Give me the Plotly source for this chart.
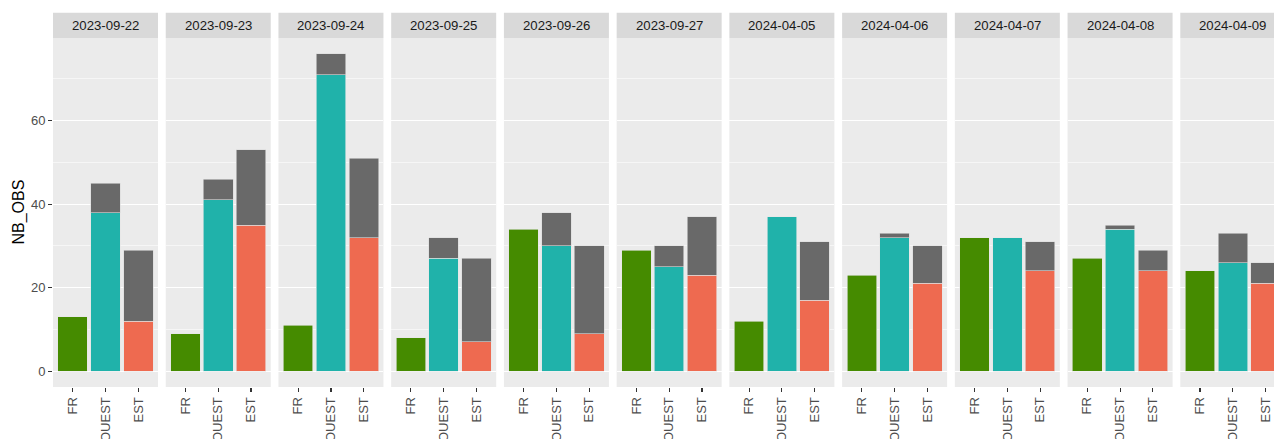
import plotly.graph_objects as go

# ---------------- data ----------------
dates = ["2023-09-22", "2023-09-23", "2023-09-24", "2023-09-25", "2023-09-26",
         "2023-09-27", "2024-04-05", "2024-04-06", "2024-04-07", "2024-04-08",
         "2024-04-09"]
regions = ["FR", "OUEST", "EST"]

fr_obs = [13, 9, 11, 8, 34, 29, 12, 23, 32, 27, 24]
ouest_obs = [38, 41, 71, 27, 30, 25, 37, 32, 32, 34, 26]
est_obs = [12, 35, 32, 7, 9, 23, 17, 21, 24, 24, 21]

ouest_total = [45, 46, 76, 32, 38, 30, 37, 33, 32, 35, 33]
est_total = [29, 53, 51, 27, 30, 37, 31, 30, 31, 29, 26]

y_ticks = [0, 20, 40, 60]
y_minor = [10, 30, 50, 70]

region_colors = ["#458B00", "#20B2AA", "#EE6A50"]
other_color = "#696969"

# ---------------- layout geometry (pixels) ----------------
W, H = 1274, 439
L, R, T, B = 53, 0, 38, 52
PW = W - L - R
PH = H - T - B
panel_start0 = 53.0
panel_step = 112.73
panel_w = 105.0
strip_top = 12.7

x_lo, x_hi = -0.6, 2.6
y_range = [-3.8, 79.8]

FONT = "Liberation Sans, Arial, sans-serif"

fig = go.Figure()
layout = dict(
    width=W, height=H,
    margin=dict(l=L, r=R, t=T, b=B, pad=0),
    paper_bgcolor="white",
    plot_bgcolor="#EBEBEB",
    barmode="stack",
    showlegend=False,
    font=dict(family=FONT, color="#4D4D4D", size=13),
    shapes=[], annotations=[],
)

for i, d in enumerate(dates):
    n = "" if i == 0 else str(i + 1)
    start = panel_start0 + panel_step * i
    end = start + panel_w
    vis_end = min(end, W)
    dom = [(start - L) / PW, (vis_end - L) / PW]
    xr = [x_lo, x_lo + (x_hi - x_lo) * (vis_end - start) / panel_w]

    obs = [fr_obs[i], ouest_obs[i], est_obs[i]]
    other = [None,
             (ouest_total[i] - ouest_obs[i]) or None,
             (est_total[i] - est_obs[i]) or None]

    fig.add_trace(go.Bar(
        x=[0, 1, 2], y=obs, width=0.9,
        marker=dict(color=region_colors, line=dict(color="#E6E6E6", width=0.6)),
        xaxis="x" + n, yaxis="y" + n, hoverinfo="skip"))
    fig.add_trace(go.Bar(
        x=[0, 1, 2], y=other, width=0.9,
        marker=dict(color=other_color, line=dict(color="#DADADA", width=0.6)),
        xaxis="x" + n, yaxis="y" + n, hoverinfo="skip"))

    layout["xaxis" + n] = dict(
        domain=dom, range=xr, anchor="y" + n,
        tickmode="array", tickvals=[0, 1, 2], ticktext=regions,
        tickangle=-90, ticks="outside", ticklen=4, tickwidth=1.1,
        tickcolor="#333333", tickfont=dict(size=13, color="#4D4D4D", family=FONT),
        showgrid=False, zeroline=False, showline=False, automargin=False,
        fixedrange=True)
    layout["yaxis" + n] = dict(
        domain=[0, 1], range=y_range, anchor="x" + n,
        tickmode="array", tickvals=y_ticks,
        showticklabels=(i == 0),
        ticks="outside" if i == 0 else "", ticklen=4, tickwidth=1.1,
        tickcolor="#333333", tickfont=dict(size=13, color="#4D4D4D", family=FONT),
        showgrid=True, gridcolor="white", gridwidth=1.1,
        minor=dict(tickmode="array", tickvals=y_minor, showgrid=True,
                   gridcolor="white", gridwidth=0.55, ticks=""),
        zeroline=False, showline=False, automargin=False, fixedrange=True)

    # strip
    y0s = 1.0
    y1s = 1.0 + (T - strip_top) / PH
    layout["shapes"].append(dict(
        type="rect", xref="paper", yref="paper",
        x0=(start - L) / PW, x1=(end - L) / PW, y0=y0s, y1=y1s,
        fillcolor="#D9D9D9", line=dict(width=0), layer="below"))
    layout["annotations"].append(dict(
        text=d, xref="paper", yref="paper",
        x=((start + end) / 2 - L) / PW, y=(y0s + y1s) / 2,
        xanchor="center", yanchor="middle", showarrow=False,
        font=dict(size=13.2, color="#1A1A1A", family=FONT)))

layout["annotations"].append(dict(
    text="NB_OBS", xref="paper", yref="paper",
    x=(18 - L) / PW, y=0.5, textangle=-90,
    xanchor="center", yanchor="middle", showarrow=False,
    font=dict(size=16, color="#000000", family=FONT)))

fig.update_layout(**layout)
fig.write_html(
    "out.html",
    config={"displayModeBar": False, "staticPlot": True},
    post_script="document.body.style.margin='0';document.body.style.overflow='hidden';")
